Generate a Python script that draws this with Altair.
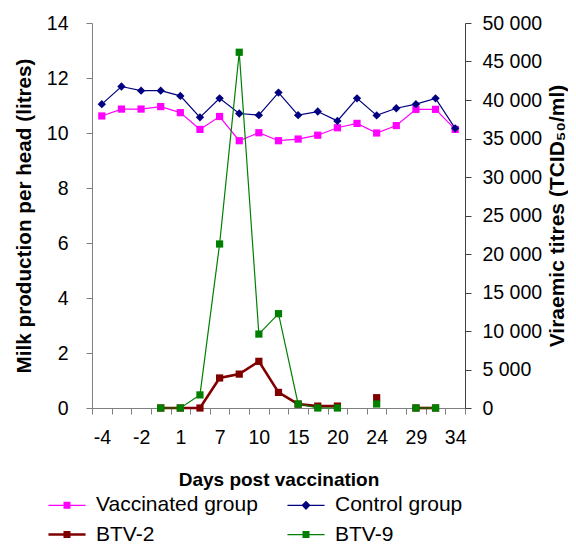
import altair as alt
import pandas as pd

# ---- data ----
days = ["-4", "-3", "-2", "-1", "1", "4", "7", "8", "10", "13",
        "15", "17", "20", "22", "24", "27", "29", "31", "34"]
vaccinated = [10.62, 10.87, 10.87, 10.96, 10.74, 10.13, 10.60, 9.72, 10.01, 9.72,
              9.78, 9.92, 10.19, 10.35, 10.00, 10.27, 10.86, 10.86, 10.13]
control = [11.05, 11.69, 11.54, 11.54, 11.35, 10.57, 11.26, 10.71, 10.65, 11.47,
           10.65, 10.78, 10.44, 11.26, 10.64, 10.90, 11.05, 11.26, 10.17]
btv2 = [None, None, None, 0, 0, 0, 3900, 4400, 6060, 2030,
        500, 250, 250, None, 1340, None, 0, 0, None]
btv9 = [None, None, None, 0, 0, 1700, 21300, 46200, 9600, 12250,
        520, 0, 0, None, 520, None, 0, 0, None]

names = ["Vaccinated group", "Control group", "BTV-2", "BTV-9"]
colors = ["#FF00FF", "#000080", "#800000", "#008000"]
markers = ["square", "diamond", "square", "square"]
line_widths = [1.2, 1.2, 2.6, 1.2]
marker_sizes = [52, 70, 52, 52]
legend_paths = [
    "M-5.3,-0.17H5.3V0.17H-5.3ZM-1,-1H1V1H-1Z",
    "M-5.3,-0.17H5.3V0.17H-5.3ZM0,-1.3L1.3,0L0,1.3L-1.3,0Z",
    "M-5.3,-0.36H5.3V0.36H-5.3ZM-1,-1H1V1H-1Z",
    "M-5.3,-0.17H5.3V0.17H-5.3ZM-1,-1H1V1H-1Z",
]

W, H = 373, 385
FONT = "Liberation Sans"


def to_long(name, values):
    rows = []
    seg = 0
    for i, v in enumerate(values):
        if v is None:
            seg += 1
            continue
        rows.append({"idx": i, "day": days[i], "series": name, "value": v, "seg": seg})
    return pd.DataFrame(rows)


n = len(days)
step = W / n
bounds = [i - 0.5 for i in range(n + 1)]
labels_js = "[" + ",".join("'%s'" % d for d in days) + "]"
label_expr = f"((datum.value + 0.5) % 2 == 0 && datum.value < {n - 1}) ? {labels_js}[datum.value + 0.5] : ''"

x_enc = alt.X(
    "idx:Q",
    scale=alt.Scale(domain=[-0.5, n - 0.5], nice=False, zero=False),
    axis=alt.Axis(
        values=bounds, labelExpr=label_expr, labelOffset=step / 2,
        labelFlush=False, labelOverlap=False, labelBound=False,
        title="Days post vaccination", titleFontSize=19, titleFontWeight="bold",
        titlePadding=24, labelFontSize=19.5, labelPadding=14, tickSize=6,
        domainColor="#808080", tickColor="#808080", labelColor="black",
        titleColor="black", grid=False,
    ),
)

y_left = alt.Y(
    "value:Q",
    scale=alt.Scale(domain=[0, 14], nice=False, zero=True),
    axis=alt.Axis(
        orient="left", values=list(range(0, 15, 2)),
        title="Milk production per head (litres)", titleFontSize=20.7,
        titleFontWeight="bold", titlePadding=12, labelFontSize=19.5,
        labelPadding=18, tickSize=6, domainColor="#808080", tickColor="#808080",
        labelColor="black", titleColor="black", grid=False,
    ),
)

y_right = alt.Y(
    "value:Q",
    scale=alt.Scale(domain=[0, 50000], nice=False, zero=True),
    axis=alt.Axis(
        orient="right", values=list(range(0, 50001, 5000)),
        labelExpr="replace(format(datum.value, ','), ',', ' ')",
        title="Viraemic titres (TCID\u2085\u2080/ml)", titleFontSize=21,
        titleFontWeight="bold", titlePadding=4.5, titleAngle=270,
        titleBaseline="top", labelFontSize=19.5, labelPadding=11, tickSize=6,
        domainColor="#404040", tickColor="#404040", labelColor="black",
        titleColor="black", grid=False,
    ),
)


def series_layers(values, k, y):
    df = to_long(names[k], values)
    base = alt.Chart(df)
    line = base.mark_line(color=colors[k], strokeWidth=line_widths[k]).encode(
        x=x_enc, y=y, detail="seg:N"
    )
    pts = base.mark_point(
        shape=markers[k], filled=True, size=marker_sizes[k], color=colors[k], opacity=1
    ).encode(x=x_enc, y=y)
    return [line, pts]


legend_def = alt.Legend(
    orient="none", legendX=-35.5, legendY=471.6, direction="horizontal", columns=2,
    title=None, symbolSize=49, symbolStrokeWidth=0, symbolOpacity=1,
    labelFontSize=21, labelFont=FONT, labelOffset=18.5, labelLimit=400,
    columnPadding=28, rowPadding=7.5, labelColor="black",
)

legend_df = to_long(names[0], vaccinated)
legend_layer = alt.Chart(legend_df).mark_point(filled=True, opacity=0, size=49).encode(
    x=x_enc,
    y=y_left,
    color=alt.Color("series:N", scale=alt.Scale(domain=names, range=colors), legend=legend_def),
    shape=alt.Shape("series:N", scale=alt.Scale(domain=names, range=legend_paths), legend=legend_def),
)

left = alt.layer(
    *series_layers(vaccinated, 0, y_left),
    *series_layers(control, 1, y_left),
    legend_layer,
)
right = alt.layer(
    *series_layers(btv2, 2, y_right),
    *series_layers(btv9, 3, y_right),
)

chart = (
    alt.layer(left, right)
    .resolve_scale(y="independent")
    .properties(
        width=W, height=H,
        autosize=alt.AutoSizeParams(type="none"),
        padding={"left": 84, "top": 15, "right": 103, "bottom": 137},
    )
    .configure(font=FONT)
    .configure_view(stroke=None)
    .configure_axis(labelFont=FONT, titleFont=FONT)
)

chart.save("out.html", embed_options={"renderer": "svg", "actions": False})
